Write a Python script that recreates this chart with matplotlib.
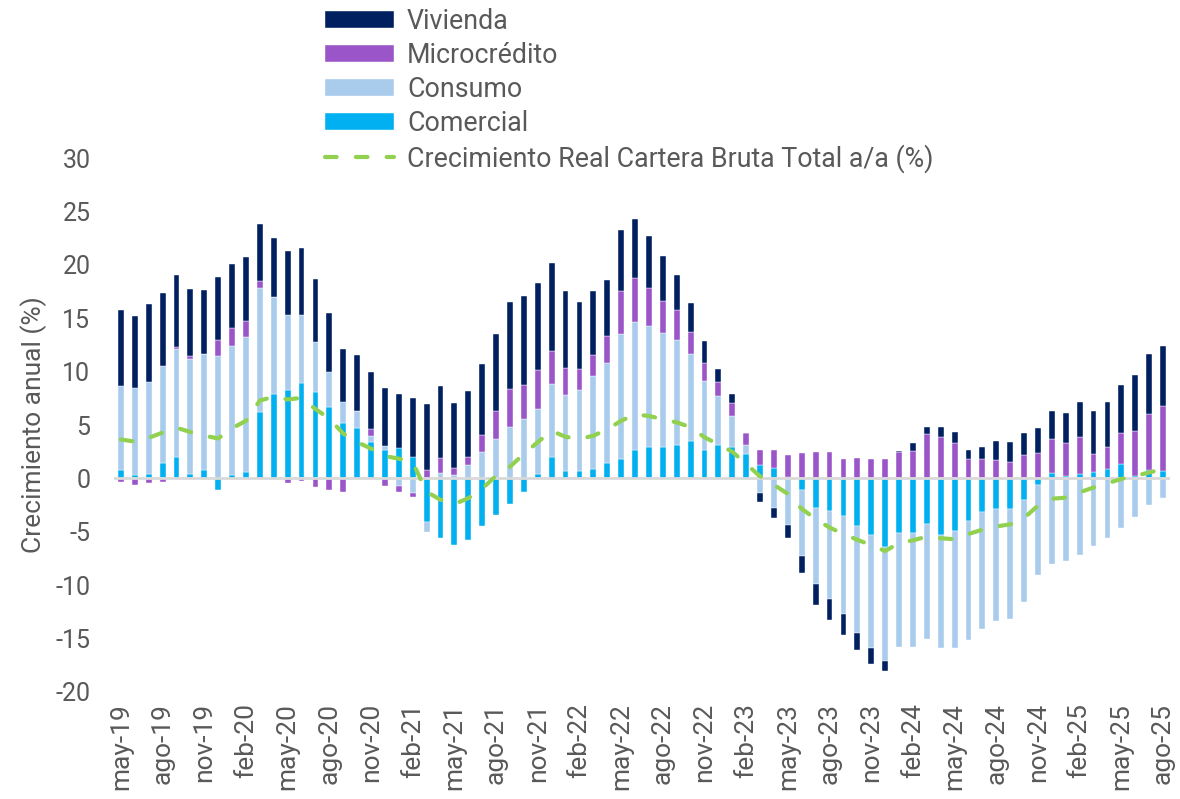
import numpy as np
import matplotlib
matplotlib.use("Agg")
import matplotlib.pyplot as plt

plt.rcParams['font.family'] = ['Roboto', 'DejaVu Sans']
plt.rcParams['axes.unicode_minus'] = False

# meses: may-19 ... ago-25
mes_nombres = ['ene', 'feb', 'mar', 'abr', 'may', 'jun', 'jul', 'ago', 'sep', 'oct', 'nov', 'dic']
meses = []
for anio in range(2019, 2026):
    for m in range(12):
        if (anio == 2019 and m < 4) or (anio == 2025 and m > 7):
            continue
        meses.append(f"{mes_nombres[m]}-{str(anio)[2:]}")

comercial = [0.8, 0.3, 0.45, 1.4, 2.0, 0.45, 0.8, -1.1, 0.3, 0.6,
             6.2, 7.95, 8.25, 8.95, 8.1, 6.7, 5.15, 4.75, 3.4, 2.65,
             2.85, 2.05, -4.1, -5.6, -6.25, -5.8, -4.5, -3.45, -2.4, -1.3,
             0.4, 2.0, 0.7, 0.7, 0.85, 1.45, 1.8, 2.65, 2.95, 2.9,
             3.1, 3.5, 2.65, 3.1, 2.9, 2.3, 1.25, 0.95, 0.1, -1.1,
             -2.8, -3.05, -3.5, -4.45, -5.3, -6.4, -5.15, -5.15, -4.3, -5.3,
             -4.9, -3.95, -3.1, -2.85, -2.85, -2.05, -0.65, 0.55, 0.2, 0.45,
             0.6, 0.85, 1.35, 0.25, 0.8, 0.7]
consumo = [7.85, 8.2, 8.6, 9.1, 10.1, 10.7, 10.9, 11.45, 12.15, 12.65,
           11.65, 9.05, 7.1, 6.4, 4.7, 3.25, 2.05, 1.6, 0.6, 0.4,
           -0.7, -1.35, -0.95, 0.55, 0.35, 1.25, 2.45, 3.7, 4.8, 5.55,
           6.15, 6.85, 7.1, 7.6, 8.75, 9.4, 11.7, 12.0, 11.35, 10.75,
           9.85, 8.2, 6.5, 4.65, 2.95, 0.85, -1.4, -2.8, -4.35, -6.2,
           -7.05, -8.2, -9.2, -10.0, -10.6, -10.7, -10.6, -10.6, -10.7, -10.6,
           -11.0, -11.15, -11.0, -10.55, -10.3, -9.5, -8.4, -8.0, -7.7, -7.15,
           -6.3, -5.6, -4.6, -3.6, -2.45, -1.85]
microcredito = [-0.3, -0.6, -0.45, -0.3, 0.2, 0.3, 0.0, 1.55, 1.65, 1.5,
                0.65, 0.0, -0.4, -0.2, -0.8, -1.1, -1.3, 0.0, 0.6, -0.7,
                -0.6, -0.35, 0.8, 1.35, 0.6, 0.8, 1.6, 2.6, 3.6, 3.2,
                3.6, 3.1, 2.5, 1.95, 1.95, 2.45, 4.1, 4.1, 3.5, 2.95,
                2.8, 2.05, 1.65, 1.3, 1.2, 1.15, 1.4, 1.7, 2.1, 2.35,
                2.45, 2.45, 1.8, 1.95, 1.8, 1.8, 2.5, 2.55, 4.15, 3.85,
                3.3, 1.8, 1.8, 1.7, 1.55, 2.2, 2.35, 3.1, 3.1, 3.45,
                1.65, 2.1, 2.9, 4.2, 5.25, 6.05]
vivienda = [7.1, 6.7, 7.25, 6.9, 6.8, 6.3, 5.95, 5.9, 6.0, 5.95,
            5.3, 5.55, 6.0, 6.25, 5.9, 5.55, 4.9, 5.25, 5.4, 5.4,
            5.05, 5.45, 6.2, 6.75, 6.15, 6.1, 6.7, 7.2, 8.1, 8.35,
            8.2, 8.2, 7.25, 6.3, 6.0, 5.3, 5.65, 5.55, 4.9, 4.2,
            3.35, 2.65, 2.1, 1.2, 0.85, 0.0, -0.8, -0.95, -1.25, -1.6,
            -2.0, -2.05, -1.95, -1.65, -1.5, -0.9, 0.1, 0.75, 0.7, 1.0,
            1.05, 0.9, 1.1, 1.8, 1.9, 2.1, 2.4, 2.7, 2.8, 3.3,
            4.05, 4.25, 4.5, 5.2, 5.65, 5.7]
cartera_total = [3.65, 3.45, 3.8, 4.3, 4.75, 4.35, 4.0, 3.75, 4.7, 5.4,
                 7.3, 7.65, 7.4, 7.55, 6.5, 5.6, 4.2, 3.4, 2.8, 2.1,
                 1.85, 1.5, -1.25, -2.0, -2.4, -1.85, -0.95, 0.25, 1.1, 2.3,
                 3.4, 4.45, 3.9, 3.7, 4.0, 4.6, 5.4, 6.0, 5.85, 5.55,
                 5.25, 4.8, 3.85, 3.2, 2.5, 1.35, 0.2, -0.6, -1.45, -2.85,
                 -3.8, -4.6, -5.2, -5.75, -6.25, -6.8, -6.05, -5.8, -5.45, -5.6,
                 -5.7, -5.2, -4.8, -4.5, -4.3, -3.7, -2.55, -1.9, -1.8, -1.3,
                 -0.85, -0.45, -0.05, 0.25, 0.55, 0.9]

series = [('Comercial', comercial, '#00B0F0'),
          ('Consumo', consumo, '#A9CBEC'),
          ('Microcrédito', microcredito, '#9A55C9'),
          ('Vivienda', vivienda, '#002060')]

gris = '#595959'
x = np.arange(len(meses))

fig = plt.figure(figsize=(11.8, 7.99), dpi=100)
ax = fig.add_axes([0.0966, 0.134, 0.8949, 0.668])

# apilado tipo Excel: positivos hacia arriba, negativos hacia abajo
pos_base = np.zeros(len(x))
neg_base = np.zeros(len(x))
handles = {}
for name, vals, col in series:
    v = np.array(vals)
    base = np.where(v >= 0, pos_base, neg_base)
    b = ax.bar(x, v, 0.42, bottom=base, color=col, edgecolor='white',
               linewidth=0.3, label=name, zorder=2)
    handles[name] = b
    pos_base = pos_base + np.clip(v, 0, None)
    neg_base = neg_base + np.clip(v, None, 0)

linea, = ax.plot(x, cartera_total, color='#92D050', lw=3, dashes=(2.8, 4.6),
                 dash_capstyle='round', zorder=4,
                 label='Crecimiento Real Cartera Bruta Total a/a (%)')

ax.axhline(0, color='#D9D9D9', lw=2, zorder=3)

ax.set_xlim(-0.5, len(x) - 0.5)
ax.set_ylim(-20, 30)
ax.set_yticks(np.arange(-20, 31, 5))
ax.set_xticks(x[::3])
ax.set_xticklabels(meses[::3], rotation=90)
ax.tick_params(axis='x', length=0, pad=8, labelsize=19, labelcolor=gris)
ax.tick_params(axis='y', length=0, pad=17, labelsize=18, labelcolor=gris)
for s in ax.spines.values():
    s.set_visible(False)
ax.set_ylabel('Crecimiento anual (%)', fontsize=19, color=gris, labelpad=6)

leg_handles = [handles['Vivienda'], handles['Microcrédito'], handles['Consumo'],
               handles['Comercial'], linea]
leg_labels = ['Vivienda', 'Microcrédito', 'Consumo', 'Comercial',
              'Crecimiento Real Cartera Bruta Total a/a (%)']
leg = fig.legend(leg_handles, leg_labels, loc='upper left',
                 bbox_to_anchor=(0.2754, 0.990), frameon=False, fontsize=19.3,
                 handlelength=2.57, handleheight=0.56, handletextpad=0.49,
                 labelspacing=0.26, borderpad=0, borderaxespad=0)
for t in leg.get_texts():
    t.set_color(gris)

fig.savefig('out.png', dpi=100)
